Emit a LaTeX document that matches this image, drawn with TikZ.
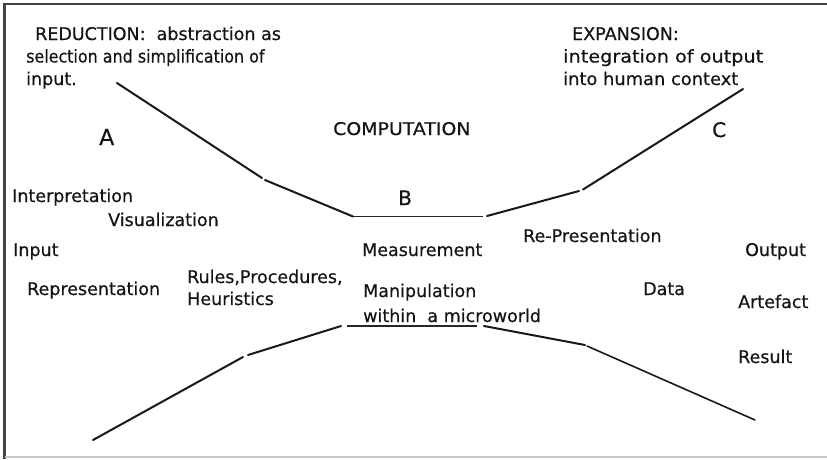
\documentclass[tikz,border=0pt]{standalone}
\usepackage{fontspec}
\setmainfont{DejaVu Sans}[BoldFont={DejaVu Sans},BoldFeatures={FakeBold=0.5}]
\definecolor{txt}{HTML}{141414}
\definecolor{framedark}{HTML}{444444}
\definecolor{framelight}{HTML}{C8C8C8}
\newcommand{\sx}[2]{\scalebox{#1}[1]{#2}}
\begin{document}
\begin{tikzpicture}[x=1pt,y=-1pt,
  lbl/.style={anchor=base west,inner sep=0pt,text=txt,font=\fontsize{17.5}{20}\selectfont\bfseries},
  letter/.style={anchor=base west,inner sep=0pt,text=txt,font=\fontsize{20}{24}\selectfont\bfseries},
  seg/.style={line width=2pt,line cap=round,black!90},
  flat/.style={line width=1.4pt,black!85}]
\useasboundingbox (0,0) rectangle (827,459);
% frame
\draw[framedark,line width=2.5pt] (3,4) -- (827,4);
\draw[framedark,line width=2.5pt] (4.5,3) -- (4.5,459);
\draw[framelight,line width=1.2pt] (4.5,457) -- (827,457);
% texts
\node[lbl] (red1) at (35,40) {REDUCTION:\ \ abstraction as};
\node[lbl] (red2) at (26,62.5) {\sx{0.91}{selection and simplification of}};
\node[lbl] (red3) at (26,85) {input.};
\node[lbl] (exp1) at (572,40) {EXPANSION:};
\node[lbl] (exp2) at (563,62.5) {\sx{1.1}{integration of output}};
\node[lbl] (exp3) at (563,85) {\sx{1.02}{into human context}};
\node[letter,font=\fontsize{22}{24}\selectfont\bfseries] (A) at (99,145) {A};
\node[lbl] (comp) at (333,135) {\sx{1.08}{COMPUTATION}};
\node[letter] (C) at (712,137) {C};
\node[letter] (B) at (398,205) {B};
\node[lbl] (interp) at (12,202) {Interpretation};
\node[lbl] (visual) at (108,226) {Visualization};
\node[lbl] (input) at (13,256) {Input};
\node[lbl] (repr) at (27,295) {Representation};
\node[lbl] (rules) at (187,283) {Rules,Procedures,};
\node[lbl] (heur) at (187,305) {Heuristics};
\node[lbl] (meas) at (362,256) {Measurement};
\node[lbl] (manip) at (363,297) {Manipulation};
\node[lbl] (micro) at (363,322) {within\ \ a microworld};
\node[lbl] (repres) at (523,242) {Re-Presentation};
\node[lbl] (output) at (745,256) {Output};
\node[lbl] (data) at (643,295) {Data};
\node[lbl] (artef) at (738,308) {Artefact};
\node[lbl] (result) at (738,363) {Result};
% upper funnel
\coordinate (u1) at (117,83);
\coordinate (u2) at (262,178);
\coordinate (u3) at (265,180);
\coordinate (u4) at (353,216.5);
\coordinate (u5) at (483,216.5);
\coordinate (u6) at (487,216);
\coordinate (u7) at (579,191);
\coordinate (u8) at (583,189.5);
\coordinate (u9) at (743,89);
\draw[seg] (u1) -- (u2);
\draw[seg] (u3) -- (u4);
\draw[flat] (u4) -- (u5);
\draw[seg] (u6) -- (u7);
\draw[seg] (u8) -- (u9);
% lower funnel
\coordinate (l1) at (93,440);
\coordinate (l2) at (243,357);
\coordinate (l3) at (248,355);
\coordinate (l4) at (341,326);
\coordinate (l5) at (347,326);
\coordinate (l6) at (477,326);
\coordinate (l7) at (484,326);
\coordinate (l8) at (585,345);
\coordinate (l9) at (587,346);
\coordinate (l10) at (755,420);
\draw[seg] (l1) -- (l2);
\draw[seg] (l3) -- (l4);
\draw[flat] (l5) -- (l6);
\draw[seg] (l7) -- (l8);
\draw[seg,line width=1.6pt] (l9) -- (l10);
\end{tikzpicture}
\end{document}
